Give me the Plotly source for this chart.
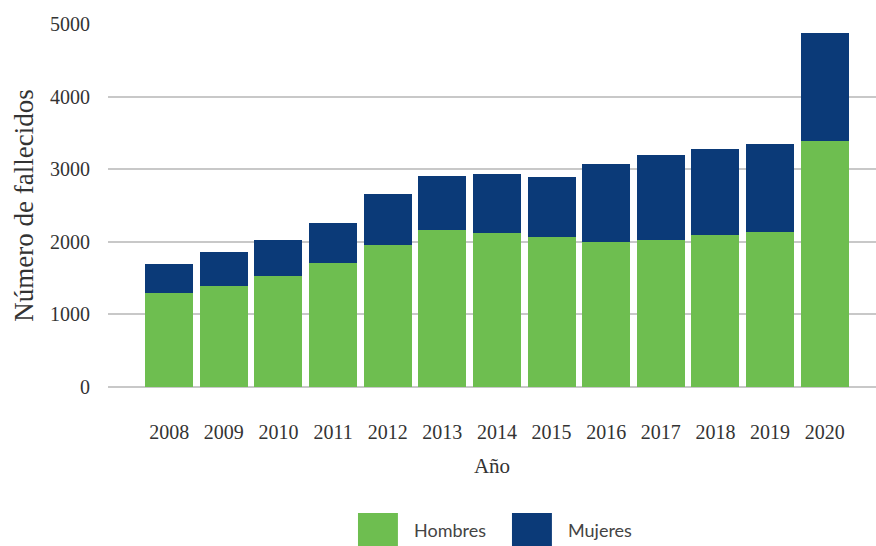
import plotly.graph_objects as go

# Fallecidos por año, desglosados por sexo
years = ["2008", "2009", "2010", "2011", "2012", "2013", "2014",
         "2015", "2016", "2017", "2018", "2019", "2020"]
hombres = [1300, 1390, 1525, 1710, 1950, 2160, 2125, 2060, 2000, 2030, 2090, 2130, 3390]
mujeres = [400, 465, 505, 545, 715, 750, 805, 835, 1070, 1170, 1185, 1215, 1490]
y_ticks = [0, 1000, 2000, 3000, 4000, 5000]

GREEN = "#6EBE50"
NAVY = "#0B3A78"
SERIF = "Liberation Serif, Times New Roman, serif"
SANS = "Lato, Open Sans, sans-serif"

fig = go.Figure()
fig.add_trace(go.Bar(x=years, y=hombres, name="Hombres", marker=dict(color=GREEN, line=dict(width=0)),
                     showlegend=False))
fig.add_trace(go.Bar(x=years, y=mujeres, name="Mujeres", marker=dict(color=NAVY, line=dict(width=0)),
                     showlegend=False))

# Leyenda dibujada con cuadros grandes bajo el gráfico
legend_items = [("Hombres", GREEN, 0.3255), ("Mujeres", NAVY, 0.5260)]
for label, color, x0 in legend_items:
    fig.add_shape(type="rect", xref="paper", yref="paper",
                  x0=x0, x1=x0 + 0.052, y0=-0.45, y1=-0.347,
                  fillcolor=color, line=dict(width=0))
    fig.add_annotation(xref="paper", yref="paper", x=x0 + 0.070, y=-0.395,
                       text=label, showarrow=False, xanchor="left", yanchor="middle",
                       font=dict(family=SANS, size=18, color="#444444"))

fig.update_layout(
    width=876, height=546,
    margin=dict(l=108, r=0, t=24, b=159),
    barmode="stack", bargap=0.12,
    plot_bgcolor="white", paper_bgcolor="white",
    showlegend=False,
    xaxis=dict(
        range=[-1.12, 12.94],
        showgrid=False, showline=False, ticks="",
        tickfont=dict(family=SERIF, size=20, color="#333333"),
        ticklabelstandoff=31,
        title=dict(text="Año", font=dict(family=SERIF, size=21, color="#333333"), standoff=16),
    ),
    yaxis=dict(
        range=[0, 5000], tickvals=y_ticks,
        showgrid=True, gridcolor="#C8C8C8", gridwidth=1.5,
        zeroline=True, zerolinecolor="#C8C8C8", zerolinewidth=1.5,
        showline=False, ticks="",
        tickfont=dict(family=SERIF, size=20, color="#333333"),
        ticklabelstandoff=17,
        title=dict(text="Número de fallecidos", font=dict(family=SERIF, size=27, color="#333333"),
                   standoff=8),
    ),
)

fig.write_html("out.html")
